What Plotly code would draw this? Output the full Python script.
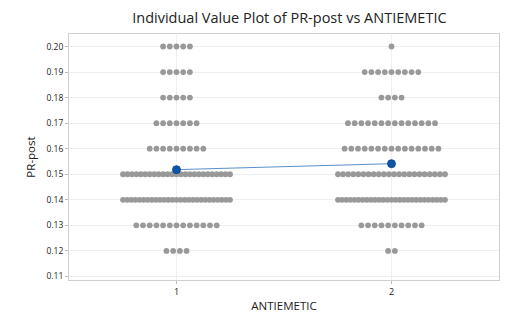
import plotly.graph_objects as go
import numpy as np

# PR-post levels and number of observations at each level, per ANTIEMETIC group
levels = [0.12, 0.13, 0.14, 0.15, 0.16, 0.17, 0.18, 0.19, 0.20]
counts_g1 = [4, 13, 27, 25, 9, 7, 5, 5, 5]
counts_g2 = [2, 10, 27, 22, 15, 14, 4, 9, 1]
groups = [1, 2]
x_ticks = [1, 2]
y_ticks = [0.11, 0.12, 0.13, 0.14, 0.15, 0.16, 0.17, 0.18, 0.19, 0.20]

PX_PER_UNIT = 215.0
BASE_SP = 6.7 / PX_PER_UNIT
MAX_W = 107.0 / PX_PER_UNIT


def stack(g, counts):
    xs, ys = [], []
    for lv, n in zip(levels, counts):
        if n == 0:
            continue
        sp = BASE_SP if n == 1 else min(BASE_SP, MAX_W / (n - 1))
        offs = (np.arange(n) - (n - 1) / 2.0) * sp
        xs.extend(g + offs)
        ys.extend([lv] * n)
    return xs, ys


fig = go.Figure()
means = []
for g, c in zip(groups, [counts_g1, counts_g2]):
    xs, ys = stack(g, c)
    means.append(float(np.mean(ys)))
    fig.add_trace(go.Scatter(x=xs, y=ys, mode="markers",
                             marker=dict(color="#999999", size=5.8, line=dict(width=0)),
                             showlegend=False, hoverinfo="y"))

fig.add_trace(go.Scatter(x=groups, y=means, mode="lines+markers",
                         line=dict(color="#5b8fc9", width=1),
                         marker=dict(color="#0b56a8", size=8, line=dict(color="#0a3f80", width=0.8)),
                         showlegend=False))

fig.update_layout(
    width=531, height=323,
    margin=dict(l=69, r=32, t=34, b=36),
    paper_bgcolor="white", plot_bgcolor="white",
    font=dict(family="Open Sans, Noto Sans, sans-serif", color="#222222"),
    title=dict(text="Individual Value Plot of PR-post vs ANTIEMETIC",
               x=0.545, xanchor="center", y=0.945, yanchor="middle",
               font=dict(size=14.5, color="#222222")),
    xaxis=dict(range=[0.5, 2.5], tickvals=x_ticks, ticktext=[str(t) for t in x_ticks],
               showgrid=True, gridcolor="#efefef", gridwidth=1, zeroline=False,
               showline=True, linecolor="#cfcfcf", linewidth=1, mirror=True,
               ticks="outside", ticklen=3, tickcolor="#bbbbbb",
               tickfont=dict(size=9, color="#222222"),
               title=dict(text="ANTIEMETIC", font=dict(size=11.5, color="#222222"), standoff=5)),
    yaxis=dict(range=[0.1086, 0.2049], tickvals=y_ticks, ticktext=[f"{t:.2f}" for t in y_ticks],
               showgrid=True, gridcolor="#efefef", gridwidth=1, zeroline=False,
               showline=True, linecolor="#cfcfcf", linewidth=1, mirror=True,
               ticks="outside", ticklen=3, tickcolor="#bbbbbb",
               tickfont=dict(size=8.5, color="#222222"),
               title=dict(text="PR-post", font=dict(size=11.5, color="#222222"), standoff=8)),
)

fig.write_html("out.html")
